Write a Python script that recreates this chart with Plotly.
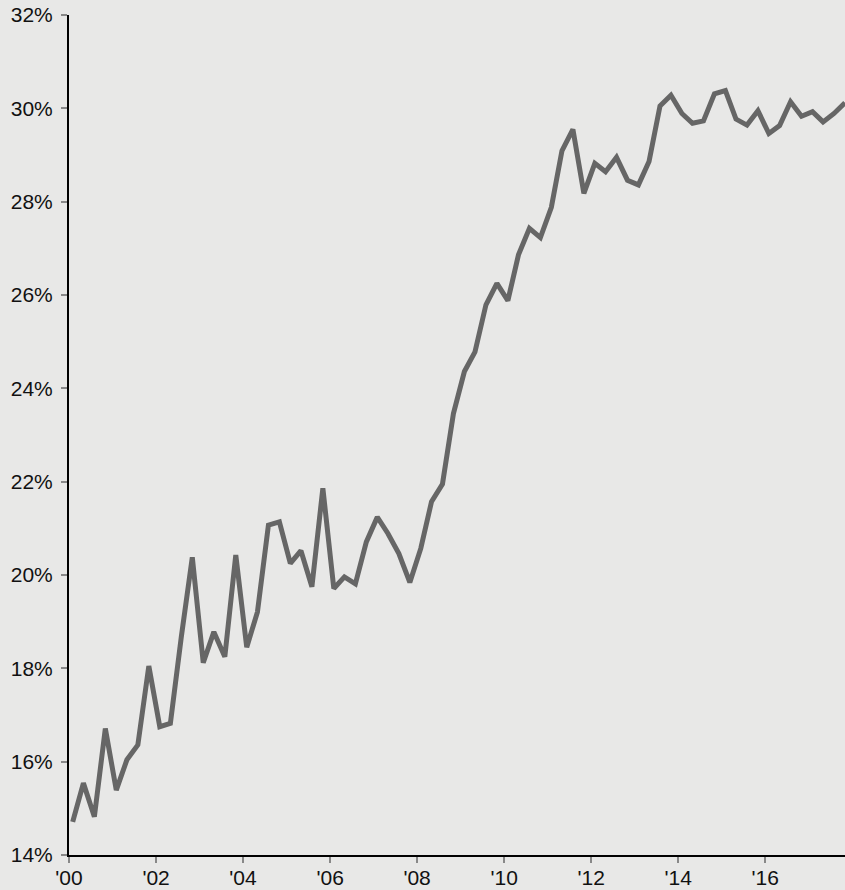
import pandas as pd
import plotly.graph_objects as go

# Quarterly share (%) 2000 Q1 .. 2017 Q4
values = [
    14.71, 15.54, 14.82, 16.71, 15.39, 16.04, 16.36, 18.05,
    16.75, 16.82, 18.68, 20.38, 18.12, 18.78, 18.25, 20.43,
    18.45, 19.21, 21.07, 21.14, 20.25, 20.52, 19.75, 21.86,
    19.71, 19.96, 19.81, 20.71, 21.24, 20.89, 20.46, 19.84,
    20.57, 21.57, 21.95, 23.46, 24.36, 24.78, 25.79, 26.25,
    25.88, 26.86, 27.43, 27.23, 27.88, 29.09, 29.55, 28.18,
    28.82, 28.64, 28.95, 28.46, 28.36, 28.86, 30.05, 30.28,
    29.89, 29.68, 29.73, 30.31, 30.38, 29.77, 29.64, 29.95,
    29.46, 29.63, 30.14, 29.83, 29.93, 29.71, 29.89, 30.12,
]
dates = pd.date_range("2000-02-01", periods=len(values), freq="3MS")

tick_years = [2000, 2002, 2004, 2006, 2008, 2010, 2012, 2014, 2016]
tick_labels = ["'00", "'02", "'04", "'06", "'08", "'10", "'12", "'14", "'16"]
y_ticks = [14, 16, 18, 20, 22, 24, 26, 28, 30, 32]

BG = "#e8e8e7"

fig = go.Figure()
fig.add_trace(go.Scatter(
    x=dates, y=values, mode="lines",
    line=dict(color="#666666", width=5),
    hoverinfo="skip", showlegend=False,
))

fig.update_layout(
    width=845, height=890,
    paper_bgcolor=BG, plot_bgcolor=BG,
    margin=dict(l=69, r=0, t=15, b=35, autoexpand=False),
    font=dict(family="Liberation Sans, Arial, sans-serif", size=21, color="#111111"),
    xaxis=dict(
        range=[pd.Timestamp("2000-01-01"), dates[-1]],
        tickvals=[pd.Timestamp(f"{y}-01-01") for y in tick_years],
        ticktext=tick_labels,
        showgrid=False, zeroline=False, automargin=False,
        showline=True, linecolor="#000000", linewidth=2,
        ticks="outside", ticklen=6, tickwidth=2, tickcolor="#888888",
        ticklabelstandoff=-3,
    ),
    yaxis=dict(
        range=[14, 32],
        tickvals=y_ticks,
        ticktext=[f"{v}%" for v in y_ticks],
        showgrid=False, zeroline=False, automargin=False,
        showline=True, linecolor="#000000", linewidth=2,
        ticks="outside", ticklen=6, tickwidth=2, tickcolor="#888888",
        ticklabelstandoff=4,
    ),
)

fig.write_html(
    "out.html",
    config={"displayModeBar": False},
    post_script="document.body.style.margin='0';document.body.style.background='" + BG + "';",
)
